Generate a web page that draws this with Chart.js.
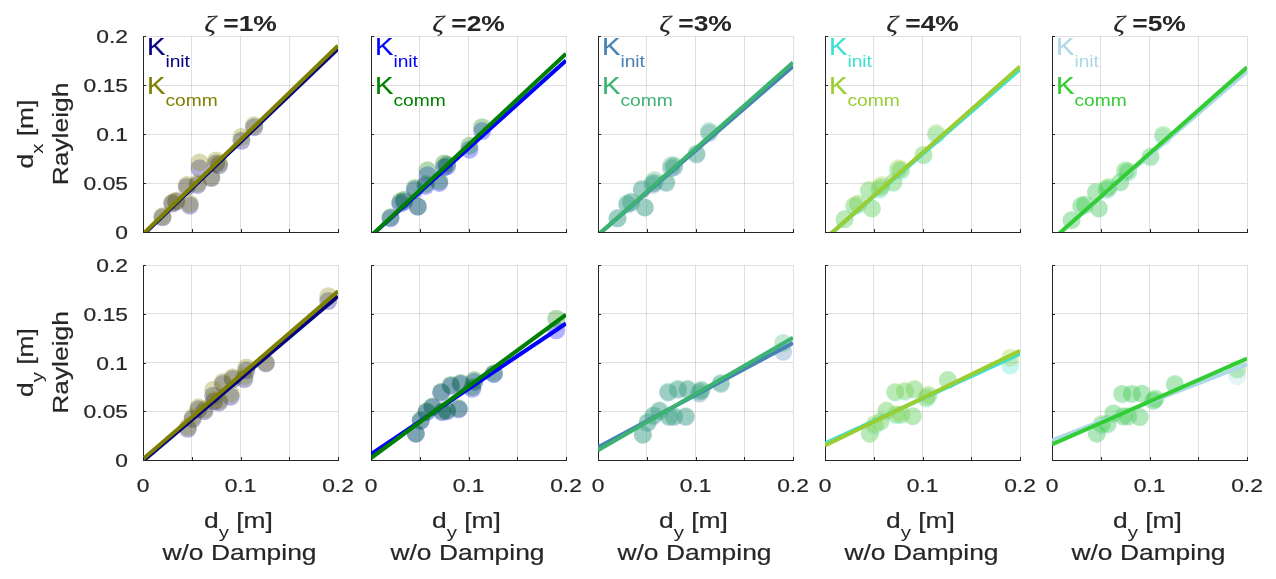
<!DOCTYPE html>
<html>
<head>
<meta charset="utf-8">
<script src="https://cdn.jsdelivr.net/npm/chart.js@4.4.1/dist/chart.umd.min.js"></script>
<style>
  body { margin: 0; background: #fff; width: 1276px; height: 579px; position: relative; overflow: hidden; }
  canvas { position: absolute; }
</style>
</head>
<body>
<script>
// damping ratio per column
const zetas = ['1%', '2%', '3%', '4%', '5%'];
const initColors = ['#000080', '#0000FF', '#4682B4', '#40E0D0', '#ADD8E6'];
const commColors = ['#808000', '#008000', '#3CB371', '#9ACD32', '#32CD32'];

// axis ticks
const axisTicks = [0, 0.05, 0.1, 0.15, 0.2];
const yTickLabels = ['0', '0.05', '0.1', '0.15', '0.2'];
const xTickValues = [0, 0.1, 0.2];
const xTickLabels = ['0', '0.1', '0.2'];

// top row: d_x w/o damping vs Rayleigh
const dxUndamped = [0.020, 0.030, 0.034, 0.048, 0.045, 0.056, 0.058, 0.070, 0.075, 0.078, 0.101, 0.114];
const dxInit = [
  [0.015, 0.029, 0.031, 0.027, 0.046, 0.048, 0.065, 0.055, 0.070, 0.068, 0.093, 0.107],
  [0.014, 0.029, 0.031, 0.026, 0.043, 0.047, 0.058, 0.050, 0.066, 0.067, 0.084, 0.103],
  [0.014, 0.028, 0.030, 0.025, 0.043, 0.048, 0.050, 0.050, 0.065, 0.066, 0.079, 0.101],
  [0.013, 0.026, 0.028, 0.024, 0.042, 0.043, 0.046, 0.050, 0.063, 0.062, 0.078, 0.099],
  [0.012, 0.026, 0.027, 0.024, 0.040, 0.042, 0.044, 0.050, 0.061, 0.060, 0.076, 0.097]
];
const dxComm = [
  [0.016, 0.030, 0.032, 0.029, 0.048, 0.050, 0.071, 0.056, 0.073, 0.070, 0.097, 0.109],
  [0.015, 0.031, 0.033, 0.026, 0.045, 0.049, 0.063, 0.052, 0.070, 0.069, 0.088, 0.107],
  [0.014, 0.029, 0.031, 0.025, 0.044, 0.050, 0.053, 0.051, 0.068, 0.068, 0.080, 0.103],
  [0.013, 0.027, 0.029, 0.024, 0.043, 0.045, 0.048, 0.051, 0.065, 0.064, 0.079, 0.101],
  [0.012, 0.027, 0.028, 0.024, 0.041, 0.044, 0.046, 0.051, 0.063, 0.062, 0.077, 0.099]
];

// bottom row: d_y w/o damping vs Rayleigh
const dyUndamped = [0.046, 0.051, 0.057, 0.063, 0.072, 0.073, 0.078, 0.082, 0.090, 0.092, 0.104, 0.106, 0.126, 0.190];
const dyInit = [
  [0.032, 0.042, 0.052, 0.050, 0.066, 0.060, 0.059, 0.078, 0.065, 0.083, 0.083, 0.092, 0.099, 0.163],
  [0.027, 0.040, 0.049, 0.054, 0.069, 0.049, 0.050, 0.076, 0.052, 0.078, 0.073, 0.080, 0.088, 0.133],
  [0.026, 0.038, 0.045, 0.050, 0.069, 0.044, 0.044, 0.072, 0.044, 0.072, 0.068, 0.071, 0.078, 0.111],
  [0.027, 0.035, 0.039, 0.050, 0.069, 0.046, 0.046, 0.070, 0.045, 0.072, 0.063, 0.066, 0.082, 0.097],
  [0.027, 0.035, 0.036, 0.047, 0.067, 0.044, 0.044, 0.067, 0.044, 0.068, 0.060, 0.062, 0.077, 0.086]
];
const dyComm = [
  [0.034, 0.044, 0.054, 0.052, 0.072, 0.062, 0.061, 0.080, 0.068, 0.085, 0.086, 0.095, 0.100, 0.168],
  [0.027, 0.041, 0.050, 0.055, 0.070, 0.050, 0.051, 0.077, 0.053, 0.079, 0.075, 0.082, 0.089, 0.145],
  [0.026, 0.039, 0.046, 0.051, 0.070, 0.045, 0.045, 0.073, 0.045, 0.073, 0.070, 0.072, 0.079, 0.120],
  [0.027, 0.037, 0.040, 0.051, 0.070, 0.047, 0.047, 0.071, 0.045, 0.073, 0.064, 0.067, 0.082, 0.105],
  [0.027, 0.037, 0.037, 0.048, 0.068, 0.045, 0.045, 0.068, 0.044, 0.068, 0.061, 0.063, 0.078, 0.093]
];

// fitted lines, value at x = 0 and x = 0.2
const fitX = [0, 0.2];
const dxInitFit = [[-0.003, 0.187], [-0.004, 0.175], [-0.003, 0.169], [-0.007, 0.166], [-0.008, 0.164]];
const dxCommFit = [[-0.002, 0.190], [-0.004, 0.182], [-0.003, 0.173], [-0.007, 0.169], [-0.008, 0.168]];
const dyInitFit = [[-0.001, 0.168], [0.006, 0.140], [0.013, 0.120], [0.017, 0.109], [0.020, 0.098]];
const dyCommFit = [[0.001, 0.173], [0.002, 0.149], [0.010, 0.1255], [0.015, 0.112], [0.016, 0.104]];

// layout of the plot boxes
const colLeft = [143, 371, 598, 825, 1052];
const plotW = 195;
const rowTop = [36, 265];
const plotH = [196, 195];

const FONT = "'Liberation Sans', Arial, sans-serif";
const TEXT = '#262626';
const SX = 1.2; // text in the figure is rendered wide

function rgba(hex, a) {
  const n = parseInt(hex.slice(1), 16);
  return `rgba(${n >> 16},${(n >> 8) & 255},${n & 255},${a})`;
}

function fontOf(p) {
  return (p.italic ? 'italic ' : '') + (p.bold ? 'bold ' : '') + p.size + 'px ' + (p.family || FONT);
}

function drawRich(ctx, parts, x, y, align, color, angle) {
  ctx.save();
  ctx.translate(x, y);
  if (angle) ctx.rotate(angle);
  let w = 0;
  parts.forEach(p => { ctx.font = fontOf(p); w += ctx.measureText(p.t).width * SX; });
  let px = align === 'center' ? -w / 2 : align === 'right' ? -w : 0;
  ctx.fillStyle = color;
  ctx.strokeStyle = color;
  ctx.lineWidth = 0.2;
  ctx.textAlign = 'left';
  ctx.textBaseline = 'alphabetic';
  parts.forEach(p => {
    ctx.font = fontOf(p);
    const pw = ctx.measureText(p.t).width * SX;
    ctx.save();
    ctx.translate(px, p.dy || 0);
    ctx.scale(SX, 1);
    ctx.fillText(p.t, 0, 0);
    if (p.size >= 18 && !p.bold) ctx.strokeText(p.t, 0, 0);
    ctx.restore();
    px += pw;
  });
  ctx.restore();
}

const panelText = {
  id: 'panelText',
  afterDraw(chart) {
    const { ctx, chartArea: a, scales: { x, y } } = chart;
    const { row, col } = chart.options.panel;

    // inward tick marks
    ctx.save();
    ctx.strokeStyle = TEXT;
    ctx.lineWidth = 1;
    ctx.beginPath();
    axisTicks.forEach(v => {
      const py = Math.round(y.getPixelForValue(v)) + 0.5;
      ctx.moveTo(a.left, py); ctx.lineTo(a.left + 3, py);
      const px = Math.round(x.getPixelForValue(v)) + 0.5;
      ctx.moveTo(px, a.bottom); ctx.lineTo(px, a.bottom - 3);
    });
    ctx.stroke();
    ctx.restore();

    if (row === 0) {
      drawRich(ctx, [
        { t: 'ζ', size: 24, italic: true, family: "'Liberation Serif', serif" },
        { t: ' =' + zetas[col], size: 22, bold: true }
      ], (a.left + a.right) / 2, a.top - 5, 'center', TEXT);
      drawRich(ctx, [{ t: 'K', size: 23 }, { t: 'init', size: 16, dy: 12 }], a.left + 4, a.top + 19, 'left', initColors[col]);
      drawRich(ctx, [{ t: 'K', size: 23 }, { t: 'comm', size: 16, dy: 12 }], a.left + 4, a.top + 58, 'left', commColors[col]);
    }

    if (col === 0) {
      axisTicks.forEach((v, i) => {
        drawRich(ctx, [{ t: yTickLabels[i], size: 19 }], a.left - 15, y.getPixelForValue(v) + 7, 'right', TEXT);
      });
      const cy = (a.top + a.bottom) / 2;
      drawRich(ctx, [{ t: 'Rayleigh', size: 22 }], a.left - 75, cy, 'center', TEXT, -Math.PI / 2);
      drawRich(ctx, [
        { t: 'd', size: 22 }, { t: row === 0 ? 'x' : 'y', size: 17, dy: 10 }, { t: ' [m]', size: 22 }
      ], a.left - 110, cy, 'center', TEXT, -Math.PI / 2);
    }

    if (row === 1) {
      xTickValues.forEach((v, i) => {
        drawRich(ctx, [{ t: xTickLabels[i], size: 19 }], x.getPixelForValue(v), a.bottom + 32, 'center', TEXT);
      });
      const cx = (a.left + a.right) / 2;
      drawRich(ctx, [{ t: 'd', size: 22 }, { t: 'y', size: 17, dy: 10 }, { t: ' [m]', size: 22 }], cx - 2, a.bottom + 68, 'center', TEXT);
      drawRich(ctx, [{ t: 'w/o Damping', size: 22 }], cx - 1, a.bottom + 100, 'center', TEXT);
    }
  }
};

function points(xs, ys) {
  return xs.map((v, i) => ({ x: v, y: ys[i] }));
}

function makePanel(row, col) {
  const L = colLeft[col], T = rowTop[row], W = plotW, H = plotH[row];
  const cx = col === 0 ? 0 : L - 24;
  const cw = col === 0 ? L + W + 24 : W + 48;
  const cy = row === 0 ? 0 : 250;
  const ch = row === 0 ? 252 : 329;

  const canvas = document.createElement('canvas');
  canvas.width = cw; canvas.height = ch;
  canvas.style.left = cx + 'px'; canvas.style.top = cy + 'px';
  canvas.style.width = cw + 'px'; canvas.style.height = ch + 'px';
  document.body.appendChild(canvas);

  const xs = row === 0 ? dxUndamped : dyUndamped;
  const yInit = row === 0 ? dxInit[col] : dyInit[col];
  const yComm = row === 0 ? dxComm[col] : dyComm[col];
  const fInit = row === 0 ? dxInitFit[col] : dyInitFit[col];
  const fComm = row === 0 ? dxCommFit[col] : dyCommFit[col];

  const lineSet = (f, color, order) => ({
    type: 'line', data: points(fitX, f), borderColor: color, borderWidth: 4,
    pointRadius: 0, showLine: true, fill: false, clip: 0, order
  });
  const dotSet = (ys, color, order) => ({
    data: points(xs, ys), backgroundColor: rgba(color, 0.3), borderWidth: 0,
    pointRadius: 9, order
  });

  const gridStyle = { color: 'rgba(38,38,38,0.15)', lineWidth: 1, drawTicks: false };

  new Chart(canvas, {
    type: 'scatter',
    data: {
      datasets: [
        lineSet(fComm, commColors[col], 0),
        lineSet(fInit, initColors[col], 1),
        dotSet(yComm, commColors[col], 2),
        dotSet(yInit, initColors[col], 3)
      ]
    },
    options: {
      panel: { row, col },
      responsive: false,
      animation: false,
      devicePixelRatio: 1,
      layout: { padding: { left: 0, top: T - cy, right: cx + cw - (L + W), bottom: 0 } },
      plugins: { legend: { display: false }, tooltip: { enabled: false } },
      scales: {
        x: {
          type: 'linear', min: 0, max: 0.2,
          afterBuildTicks: s => { s.ticks = axisTicks.map(v => ({ value: v })); },
          afterFit: s => { s.height = cy + ch - (T + H); },
          ticks: { display: false },
          grid: gridStyle,
          border: { color: TEXT, width: 1 }
        },
        y: {
          type: 'linear', min: 0, max: 0.2,
          afterBuildTicks: s => { s.ticks = axisTicks.map(v => ({ value: v })); },
          afterFit: s => { s.width = L - cx; },
          ticks: { display: false },
          grid: gridStyle,
          border: { color: TEXT, width: 1 }
        }
      }
    },
    plugins: [panelText]
  });
}

for (let row = 0; row < 2; row++) {
  for (let col = 0; col < 5; col++) makePanel(row, col);
}
</script>
</body>
</html>
